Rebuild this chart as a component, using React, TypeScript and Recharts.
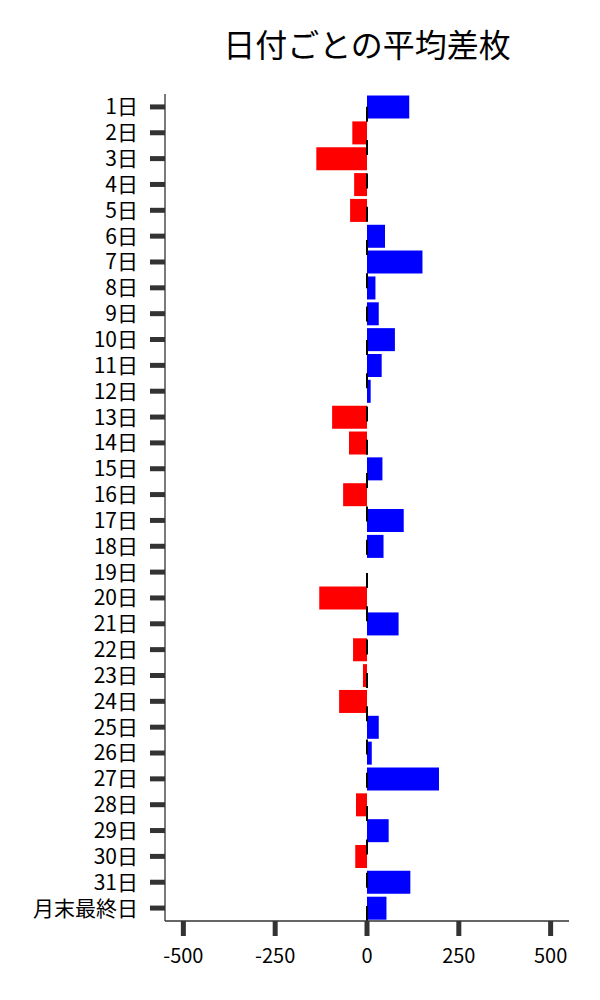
import { BarChart, Bar, XAxis, YAxis, Cell, ReferenceLine } from "recharts";

const days = [
  "1日", "2日", "3日", "4日", "5日", "6日", "7日", "8日", "9日", "10日",
  "11日", "12日", "13日", "14日", "15日", "16日", "17日", "18日", "19日", "20日",
  "21日", "22日", "23日", "24日", "25日", "26日", "27日", "28日", "29日", "30日",
  "31日", "月末最終日",
];

const avgDiff = [
  115, -40, -138, -35, -46, 49, 151, 23, 32, 76,
  40, 10, -95, -49, 42, -65, 100, 45, 0, -130,
  86, -38, -11, -76, 32, 13, 196, -30, 59, -32,
  118, 53,
];

const xTicks = [-500, -250, 0, 250, 500];

const data = days.map((day, i) => ({ day, value: avgDiff[i] }));

const FONT = '"Noto Sans CJK JP", "Noto Sans", sans-serif';

// dashed zero line, dash pattern starts from the bottom like matplotlib's axvline
const ZeroLine = (props: any) => {
  const { x1, y1, x2, y2 } = props;
  const top = Math.min(y1, y2);
  const bottom = Math.max(y1, y2);
  return (
    <line
      x1={x1}
      x2={x2}
      y1={bottom}
      y2={top}
      stroke="#000"
      strokeWidth={2}
      strokeDasharray="15 18.3"
    />
  );
};

export default function App() {
  return (
    <div
      style={{
        position: "absolute",
        left: 0,
        top: 0,
        width: 600,
        height: 1000,
        background: "#fff",
        fontFamily: FONT,
      }}
    >
      <div
        style={{
          position: "absolute",
          left: 165,
          top: 20,
          width: 404,
          textAlign: "center",
          fontSize: 32,
          color: "#000",
          lineHeight: "46px",
        }}
      >
        日付ごとの平均差枚
      </div>
      <BarChart
        width={600}
        height={1000}
        data={data}
        layout="vertical"
        margin={{ top: 94, right: 31, left: 0, bottom: 0 }}
        barCategoryGap="6%"
      >
        <XAxis
          type="number"
          domain={[-550, 550]}
          ticks={xTicks}
          height={79}
          stroke="#333"
          axisLine={{ stroke: "#333", strokeWidth: 1.3 }}
          tickLine={{ stroke: "#333", strokeWidth: 5 }}
          tickSize={15}
          tickMargin={13}
          tick={{ fill: "#000", fontSize: 20, fontFamily: FONT }}
        />
        <YAxis
          type="category"
          dataKey="day"
          width={165}
          interval={0}
          stroke="#333"
          axisLine={{ stroke: "#333", strokeWidth: 1.3 }}
          tickLine={{ stroke: "#333", strokeWidth: 5 }}
          tickSize={15}
          tickMargin={12}
          tick={{ fill: "#000", fontSize: 21, fontFamily: FONT }}
        />
        <Bar dataKey="value" isAnimationActive={false}>
          {data.map((d, i) => (
            <Cell key={i} fill={d.value < 0 ? "#ff0000" : "#0000ff"} />
          ))}
        </Bar>
        <ReferenceLine x={0} shape={ZeroLine} />
      </BarChart>
    </div>
  );
}
